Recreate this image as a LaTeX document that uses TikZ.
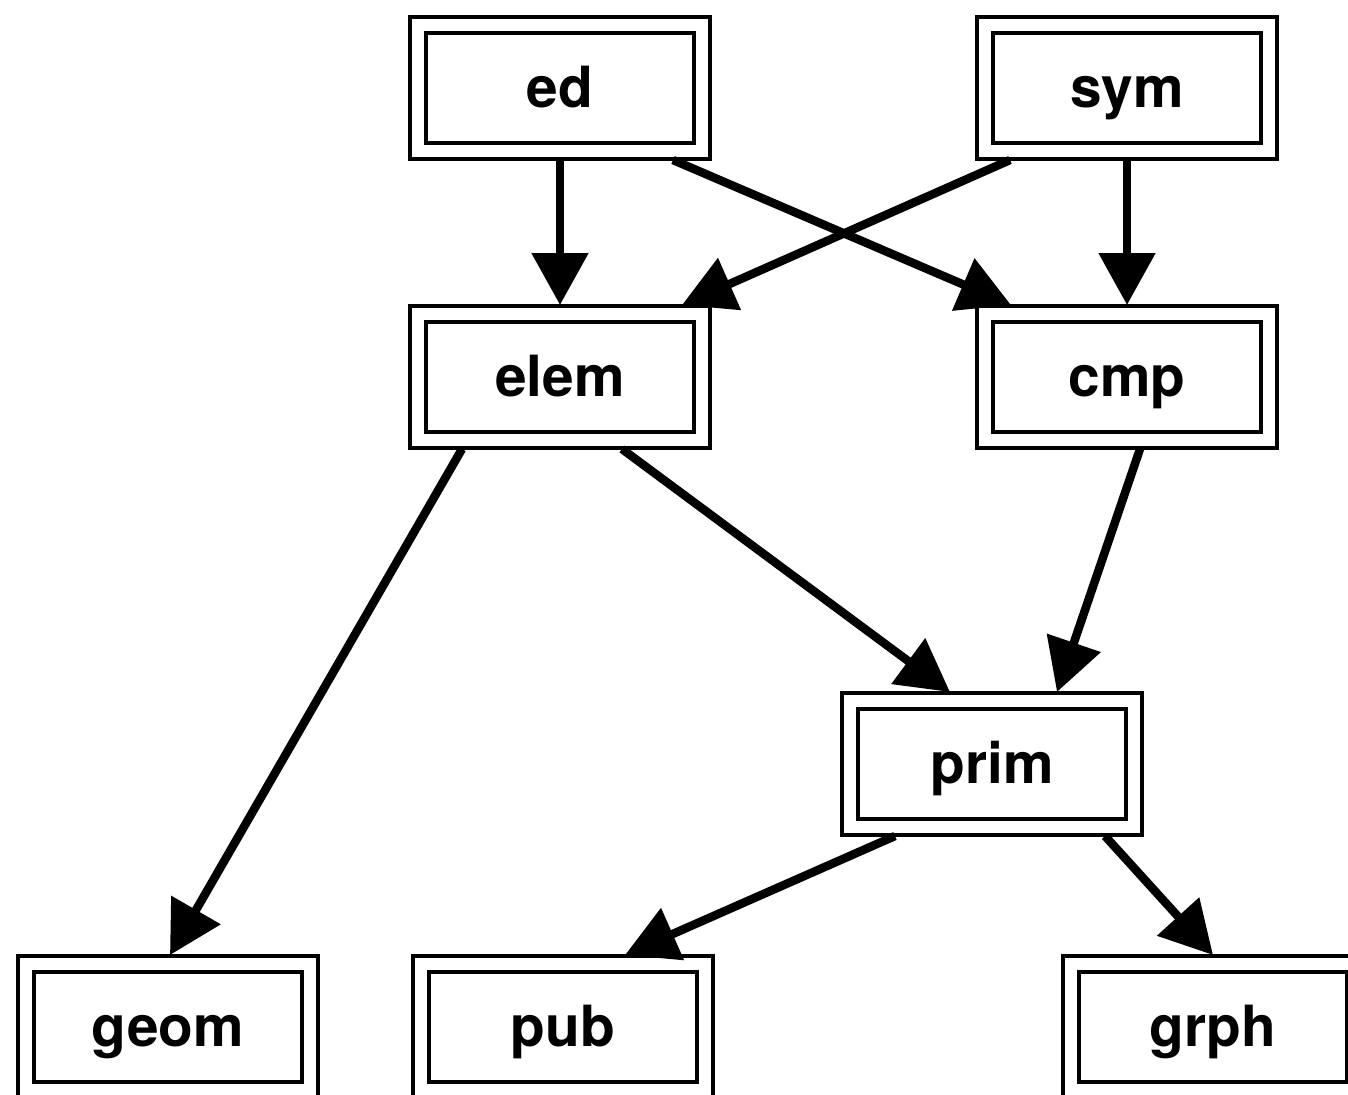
\documentclass[tikz,border=0pt]{standalone}
\usepackage{fontspec}
\setmainfont{TeX Gyre Heros}
\usetikzlibrary{arrows.meta}
\tikzset{
  modbox/.style={draw, line width=3.5bp, double, double distance=12.5bp,
    minimum width=284bp, minimum height=126bp, inner sep=0pt, outer sep=9bp,
    font=\fontsize{57}{60}\selectfont\bfseries, text height=41bp, text depth=3bp},
  dep/.style={line width=8.5bp, -{Triangle[length=52bp,width=55bp]}}
}
\begin{document}
\begin{tikzpicture}[x=1bp,y=-1bp]
\useasboundingbox (0,0) rectangle (1348,1094);
\fill[white] (0,0) rectangle (1348,1094);
\clip (0,0) rectangle (1348,1094);
\node[modbox] (ed)   at (560,88)   {ed};
\node[modbox] (sym)  at (1127,88)  {sym};
\node[modbox] (elem) at (560,377)  {elem};
\node[modbox] (cmp)  at (1127,377) {cmp};
\node[modbox] (prim) at (992,764)  {prim};
\node[modbox] (geom) at (168,1027) {geom};
\node[modbox] (pub)  at (563,1027) {pub};
\node[modbox] (grph) at (1213,1027) {grph};
\draw[dep] (ed.south) -- (elem.north);
\draw[dep] ([xshift=113bp]ed.south) -- ([xshift=-116bp]cmp.north);
\draw[dep] (sym.south) -- (cmp.north);
\draw[dep] ([xshift=-117bp]sym.south) -- ([xshift=122bp]elem.north);
\draw[dep] ([xshift=-98bp]elem.south) -- ([xshift=2bp]geom.north);
\draw[dep] ([xshift=62bp]elem.south) -- ([xshift=-42bp]prim.north);
\draw[dep] ([xshift=13bp]cmp.south) -- ([xshift=65bp]prim.north);
\draw[dep] ([xshift=-97bp]prim.south) -- ([xshift=62bp]pub.north);
\draw[dep] ([xshift=113bp]prim.south) -- (grph.north);
\end{tikzpicture}
\end{document}
